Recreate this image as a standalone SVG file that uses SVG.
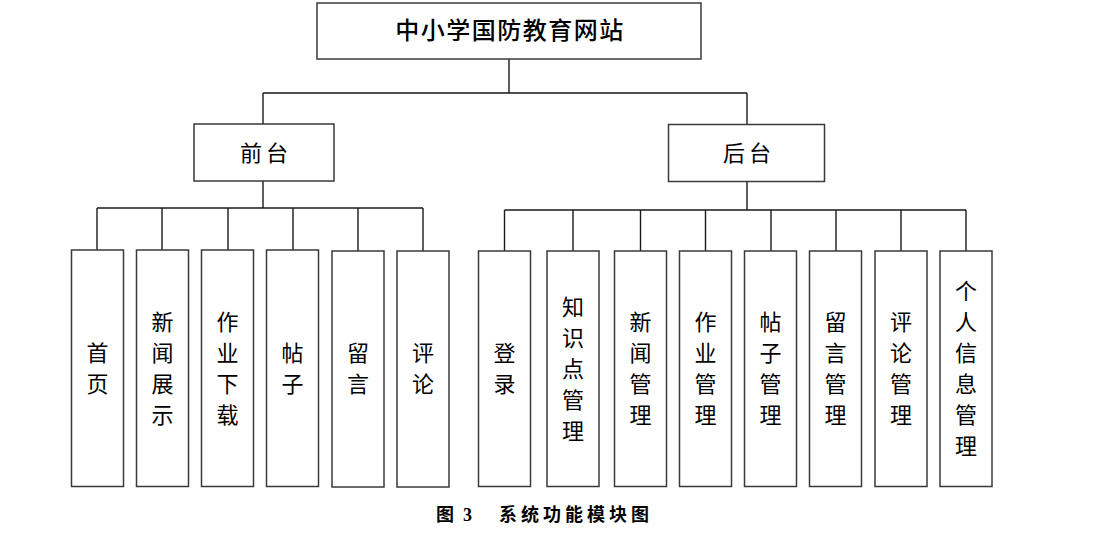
<svg xmlns="http://www.w3.org/2000/svg" width="1099" height="548" viewBox="0 0 1099 548">
<style>
.box{fill:#fff;stroke:#3a3a3a;stroke-width:1.5}
.ln{fill:none;stroke:#1a1a1a;stroke-width:1.4}
text{font-family:"Liberation Serif","Noto Sans CJK SC",serif;fill:#000}
.t{font-size:24px;font-weight:500;letter-spacing:1.5px;text-anchor:middle;dominant-baseline:central}
.m{font-size:22px;letter-spacing:4px;text-anchor:middle;dominant-baseline:central}
.v{font-size:22px;text-anchor:middle;dominant-baseline:central}
.cap{font-size:18px;font-weight:bold;dominant-baseline:central}
</style>
<rect width="1099" height="548" fill="#fff"/>
<g id="connectors">
<path class="ln" d="M509,59V93M263,93H747M263,93V124M747,93V124"/>
<path class="ln" d="M263,181V208M97,208H423M97,208V250M162,208V250M228,208V250M293,208V250M358,208V251M423,208V251"/>
<path class="ln" d="M747,181V210M504.5,210H966M504.5,210V251M573,210V251M640.5,210V251M705.5,210V251M771,210V251M836,210V251M901,210V251M966,210V251"/>
</g>
<g id="root"><rect class="box" x="317" y="3" width="384" height="56"/><text class="t" x="510" y="31">中小学国防教育网站</text></g>
<g id="front"><rect class="box" x="194" y="124" width="140" height="57"/><text class="m" x="266" y="153">前台</text></g>
<g id="back"><rect class="box" x="668.5" y="124.5" width="156" height="57"/><text class="m" x="749" y="153">后台</text></g>
<g id="f1"><rect class="box" x="71.5" y="250" width="52" height="236.5"/><text class="v" x="97.5"><tspan x="97.5" y="352.5">首</tspan><tspan x="97.5" y="383.5">页</tspan></text></g>
<g id="f2"><rect class="box" x="136.5" y="250" width="52" height="236.5"/><text class="v"><tspan x="162.5" y="321.5">新</tspan><tspan x="162.5" y="352.5">闻</tspan><tspan x="162.5" y="383.5">展</tspan><tspan x="162.5" y="414.5">示</tspan></text></g>
<g id="f3"><rect class="box" x="201.5" y="250" width="52" height="236.5"/><text class="v"><tspan x="227.5" y="321.5">作</tspan><tspan x="227.5" y="352.5">业</tspan><tspan x="227.5" y="383.5">下</tspan><tspan x="227.5" y="414.5">载</tspan></text></g>
<g id="f4"><rect class="box" x="266.5" y="250" width="52" height="236.5"/><text class="v"><tspan x="292.5" y="352.5">帖</tspan><tspan x="292.5" y="383.5">子</tspan></text></g>
<g id="f5"><rect class="box" x="332" y="251" width="52" height="236"/><text class="v"><tspan x="358" y="353">留</tspan><tspan x="358" y="384">言</tspan></text></g>
<g id="f6"><rect class="box" x="397" y="251" width="52" height="236"/><text class="v"><tspan x="423" y="353">评</tspan><tspan x="423" y="384">论</tspan></text></g>
<g id="b1"><rect class="box" x="478.5" y="251" width="52" height="235.5"/><text class="v"><tspan x="504.5" y="353">登</tspan><tspan x="504.5" y="384">录</tspan></text></g>
<g id="b2"><rect class="box" x="547" y="251" width="52" height="235.5"/><text class="v"><tspan x="573" y="306.5">知</tspan><tspan x="573" y="337.5">识</tspan><tspan x="573" y="368.5">点</tspan><tspan x="573" y="399.5">管</tspan><tspan x="573" y="430.5">理</tspan></text></g>
<g id="b3"><rect class="box" x="614.5" y="251" width="52" height="235.5"/><text class="v"><tspan x="640.5" y="322">新</tspan><tspan x="640.5" y="353">闻</tspan><tspan x="640.5" y="384">管</tspan><tspan x="640.5" y="415">理</tspan></text></g>
<g id="b4"><rect class="box" x="679.5" y="251" width="52" height="235.5"/><text class="v"><tspan x="705.5" y="322">作</tspan><tspan x="705.5" y="353">业</tspan><tspan x="705.5" y="384">管</tspan><tspan x="705.5" y="415">理</tspan></text></g>
<g id="b5"><rect class="box" x="744.5" y="251" width="52" height="235.5"/><text class="v"><tspan x="770.5" y="322">帖</tspan><tspan x="770.5" y="353">子</tspan><tspan x="770.5" y="384">管</tspan><tspan x="770.5" y="415">理</tspan></text></g>
<g id="b6"><rect class="box" x="809.5" y="251" width="52" height="235.5"/><text class="v"><tspan x="835.5" y="322">留</tspan><tspan x="835.5" y="353">言</tspan><tspan x="835.5" y="384">管</tspan><tspan x="835.5" y="415">理</tspan></text></g>
<g id="b7"><rect class="box" x="875" y="251" width="52" height="235.5"/><text class="v"><tspan x="901" y="322">评</tspan><tspan x="901" y="353">论</tspan><tspan x="901" y="384">管</tspan><tspan x="901" y="415">理</tspan></text></g>
<g id="b8"><rect class="box" x="940" y="251" width="52" height="235.5"/><text class="v"><tspan x="966" y="291">个</tspan><tspan x="966" y="322">人</tspan><tspan x="966" y="353">信</tspan><tspan x="966" y="384">息</tspan><tspan x="966" y="415">管</tspan><tspan x="966" y="446">理</tspan></text></g>
<g id="caption"><text class="cap" y="515"><tspan x="436">图</tspan><tspan x="463">3</tspan><tspan x="499" letter-spacing="4">系统功能模块图</tspan></text></g>
</svg>
